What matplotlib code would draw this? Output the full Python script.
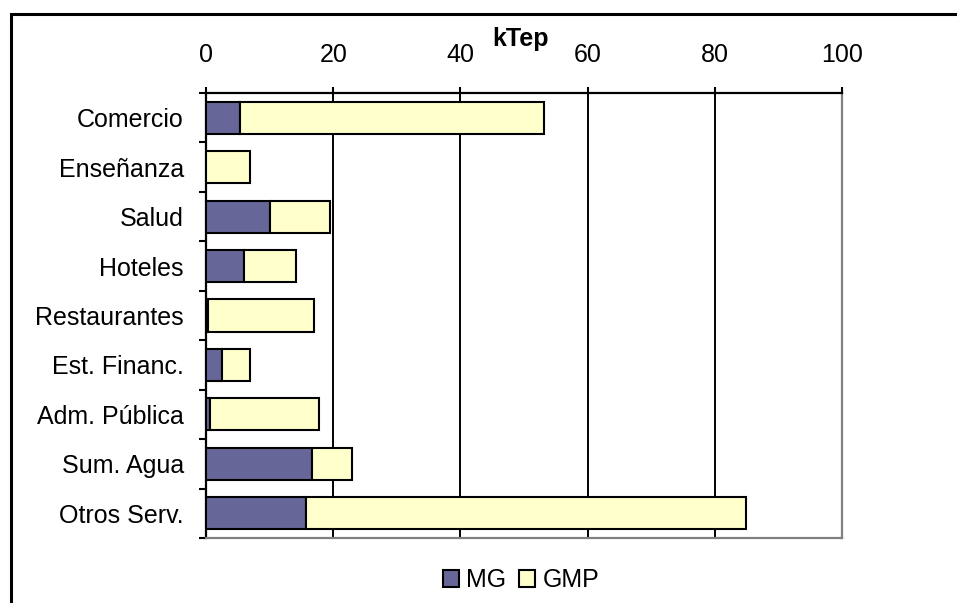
import matplotlib
matplotlib.use("Agg")
import matplotlib.pyplot as plt
from matplotlib.patches import Rectangle, Patch
import numpy as np

plt.rcParams['font.family'] = ['Liberation Sans', 'DejaVu Sans']

categories = ["Comercio", "Enseñanza", "Salud", "Hoteles", "Restaurantes",
              "Est. Financ.", "Adm. Pública", "Sum. Agua", "Otros Serv."]
mg = [5.3, 0.0, 10.1, 6.0, 0.35, 2.5, 0.6, 16.7, 15.7]
gmp = [47.8, 6.9, 9.4, 8.1, 16.65, 4.4, 17.1, 6.3, 69.2]
x_ticks = [0, 20, 40, 60, 80, 100]

FS = 18

fig = plt.figure(figsize=(9.57, 6.03), dpi=100)
# outer frame of the chart area
fig.patches.append(Rectangle((11 / 957, -0.05), 1.2, 1 - 14 / 603 + 0.05,
                             transform=fig.transFigure, fill=False,
                             edgecolor='black', linewidth=2.2, zorder=0))

ax = fig.add_axes([206 / 957, 1 - 538 / 603, (842 - 206) / 957, (538 - 93) / 603])

y = np.arange(len(categories))
h = 0.65
ax.barh(y, mg, height=h, color='#666699', edgecolor='black', linewidth=1.5,
        label='MG', zorder=3)
ax.barh(y, gmp, left=mg, height=h, color='#FFFFCC', edgecolor='black',
        linewidth=1.5, label='GMP', zorder=3)

ax.set_xlim(0, 100)
ax.set_ylim(len(categories) - 0.5, -0.5)

ax.xaxis.tick_top()
ax.set_xticks(x_ticks)
ax.set_xticklabels([str(v) for v in x_ticks], fontsize=FS)
ax.tick_params(axis='x', which='major', direction='out', length=4.5, width=1.5,
               pad=14, color='black')
fig.text(520 / 957, 1 - 39 / 603, 'kTep', ha='center', va='center',
         fontsize=FS, fontweight='bold')

ax.set_yticks(y)
ax.set_yticklabels(categories, fontsize=FS)
ax.set_yticks(np.arange(len(categories) + 1) - 0.5, minor=True)
ax.tick_params(axis='y', which='major', length=0, pad=16)
ax.tick_params(axis='y', which='minor', direction='out', length=5, width=1.5,
               color='black')

for v in x_ticks[1:-1]:
    ax.axvline(v, color='black', linewidth=1.4, zorder=1)

for side in ('top', 'left'):
    ax.spines[side].set_color('black')
    ax.spines[side].set_linewidth(1.6)
for side in ('bottom', 'right'):
    ax.spines[side].set_color('#808080')
    ax.spines[side].set_linewidth(1.6)

handles = [Patch(facecolor='#666699', edgecolor='black', linewidth=1.5, label='MG'),
           Patch(facecolor='#FFFFCC', edgecolor='black', linewidth=1.5, label='GMP')]
fig.legend(handles=handles, loc='center', bbox_to_anchor=(521 / 957, 1 - 580 / 603),
           ncol=2, frameon=False, fontsize=FS, handlelength=0.65,
           handleheight=0.65, handletextpad=0.3, columnspacing=0.5)

fig.savefig('out.png', dpi=100)
